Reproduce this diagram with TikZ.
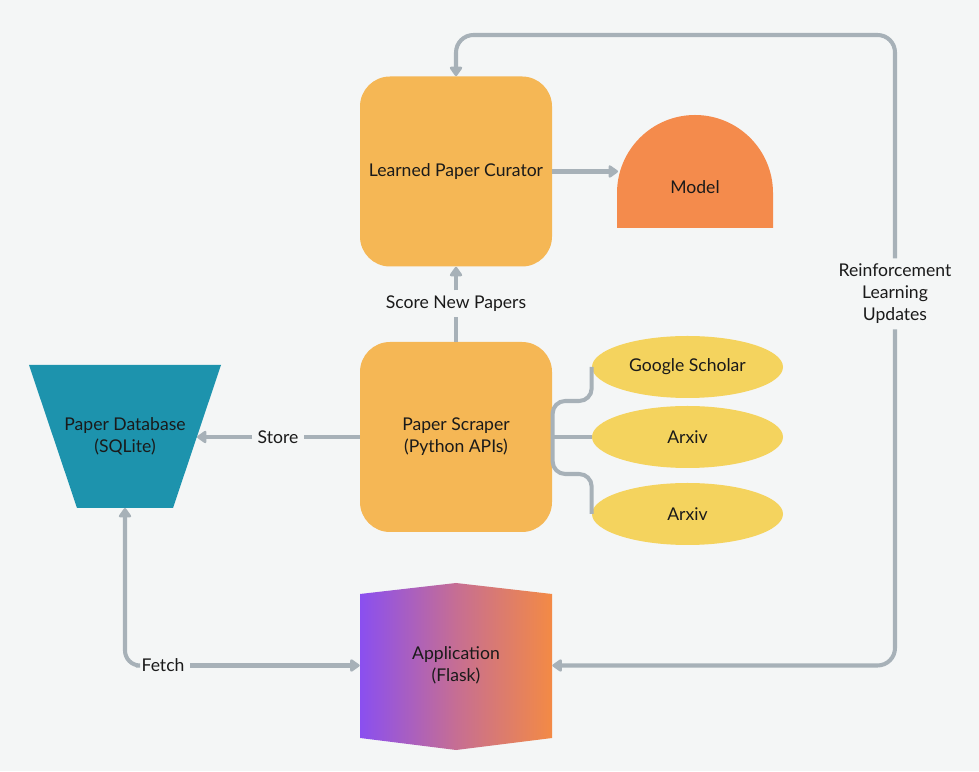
\documentclass[tikz,border=0pt]{standalone}
\usepackage{fontspec}
\setmainfont{Lato}
\usetikzlibrary{arrows.meta,shapes.geometric}
\definecolor{bgc}{RGB}{244,246,246}
\definecolor{boxc}{RGB}{245,183,85}
\definecolor{modelc}{RGB}{244,139,76}
\definecolor{pillc}{RGB}{244,211,94}
\definecolor{dbc}{RGB}{29,147,173}
\definecolor{linec}{RGB}{167,177,184}
\definecolor{appl}{RGB}{138,79,240}
\definecolor{appm}{RGB}{198,110,147}
\definecolor{appr}{RGB}{243,138,69}
\definecolor{txtc}{RGB}{26,26,26}
\begin{document}
\begin{tikzpicture}[
		font=\fontsize{10}{12.5}\selectfont,
		box/.style={rectangle, rounded corners=0.6cm, fill=boxc, minimum width=3.84cm, minimum height=3.8cm, align=center, text=txtc},
		pill/.style={ellipse, fill=pillc, minimum width=3.82cm, minimum height=1.24cm, inner sep=0pt, text=txtc},
		link/.style={draw=linec, line width=2.3pt},
		arr/.style={link, -{Triangle[width=8pt,length=6pt,round]}},
		lbl/.style={align=center, inner sep=3pt, text=txtc}
	]
		\fill[bgc] (0,0) rectangle (19.58,15.42);
		\useasboundingbox (0,0) rectangle (19.58,15.42);
		
		% Curator and model
		\node[box] (curator) at (9.12,11.99) {Learned Paper Curator};
		\fill[modelc] (12.34,10.86) -- (12.34,11.56) arc[start angle=180, end angle=0, radius=1.56] -- (15.46,10.86) -- cycle;
		\node[text=txtc] (model) at (13.9,11.68) {Model};
		\coordinate (model-w) at (12.36,11.99);
		\draw[arr] (curator.east) -- (model-w);
		
		% Scraper and its sources
		\node[box] (scraper) at (9.12,6.68) {Paper Scraper\\(Python APIs)};
		\node[pill] (gs) at (13.75,8.08) {Google Scholar};
		\node[pill] (ax1) at (13.75,6.68) {Arxiv};
		\node[pill] (ax2) at (13.75,5.14) {Arxiv};
		\draw[link, rounded corners=0.25cm] (gs.west) -- ++(0,-0.68) -- ++(-0.78,0) -- ++(0,-1.46) -- ++(0.78,0) -- (ax2.west);
		\draw[link] (scraper.east) -- (ax1.west);
		
		% Scoring
		\node[lbl] (score) at (9.12,9.34) {Score New Papers};
		\draw[link] (scraper.north) -- (score);
		\draw[arr] (score) -- (curator.south);
		
		% Database
		\fill[dbc] (0.58,8.12) -- (4.42,8.12) -- (3.46,5.26) -- (1.54,5.26) -- cycle;
		\node[align=center, text=txtc] (db) at (2.5,6.69) {Paper Database\\(SQLite)};
		\coordinate (db-e) at (3.94,6.68);
		\coordinate (db-s) at (2.5,5.26);
		\node[lbl] (store) at (5.56,6.68) {Store};
		\draw[link] (scraper.west) -- (store);
		\draw[arr] (store) -- (db-e);
		
		% Application
		\shade[left color=appl, right color=appr, middle color=appm] (7.2,3.54) -- (9.12,3.76) -- (11.04,3.54) -- (11.04,0.66) -- (9.12,0.42) -- (7.2,0.66) -- cycle;
		\node[minimum width=3.84cm, align=center, text=txtc] (app) at (9.12,2.11) {Application\\(Flask)};
		
		% Fetch
		\node[lbl] (fetch) at (3.26,2.11) {Fetch};
		\draw[arr, rounded corners=0.3cm] (fetch.west) -| (db-s);
		\draw[arr] (fetch.east) -- (app.west);
		
		% Reinforcement learning loop
		\node[lbl] (rl) at (17.9,9.54) {Reinforcement\\Learning\\Updates};
		\coordinate (top) at (9.12,14.72);
		\draw[arr, rounded corners=0.35cm] (rl.north) |- (top) -- (curator.north);
		\draw[arr, rounded corners=0.35cm] (rl.south) |- (app.east);
		
	\end{tikzpicture}
\end{document}
